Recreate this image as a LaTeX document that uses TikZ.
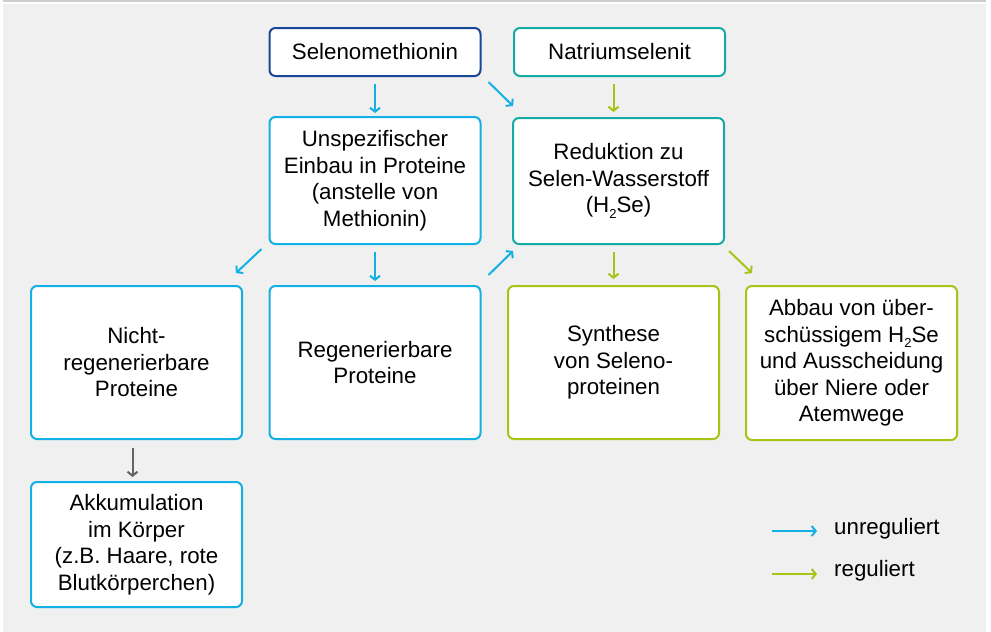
\documentclass[tikz,border=0pt]{standalone}
\usepackage{fontspec}
\setmainfont{Liberation Sans}
\usetikzlibrary{arrows.meta}

\definecolor{bggray}{RGB}{240,240,240}
\definecolor{rulegray}{RGB}{205,205,205}
\definecolor{darkblue}{RGB}{22,72,150}
\definecolor{skyblue}{RGB}{18,176,228}
\definecolor{tealc}{RGB}{22,172,166}
\definecolor{limec}{RGB}{166,196,22}
\definecolor{arrowgray}{RGB}{100,100,100}

\newcommand{\hzse}{H\raisebox{-0.45ex}{\fontsize{13}{13}\selectfont 2}Se}

\begin{document}
\begin{tikzpicture}[x=1pt,y=-1pt,
	box/.style={draw,fill=white,rounded corners=6pt,line width=2pt,
		minimum width=211pt,align=center,inner sep=2pt,
		font=\fontsize{22.3}{26.5}\selectfont},
	tip/.style={-{Straight Barb[length=4pt,width=10pt]}},
	unreg/.style={tip,draw=skyblue,line width=2pt},
	reg/.style={tip,draw=limec,line width=2pt},
	plain/.style={tip,draw=arrowgray,line width=2pt},
	legend/.style={anchor=west,inner sep=0pt,font=\fontsize{22.3}{26.5}\selectfont}]

	\useasboundingbox (0,0) rectangle (991,632);
	\fill[bggray] (3,4) rectangle (986,632);
	\fill[rulegray] (3,0) rectangle (986,1.5);

	\node[box,draw=darkblue,minimum height=48pt] (selen) at (375,52) {Selenomethionin};
	\node[box,draw=tealc,minimum height=48pt] (natrium) at (619.5,52) {Natriumselenit};

	\node[box,draw=skyblue,minimum height=127pt] (unspez) at (375,180.5)
		{Unspezifischer\\Einbau in Proteine\\(anstelle von\\Methionin)};
	\node[box,draw=tealc,minimum height=126pt] (reduk) at (618.5,181)
		{Reduktion zu\\Selen-Wasserstoff\\(\hzse)};

	\node[box,draw=skyblue,minimum height=153pt] (nicht) at (136.5,362.5)
		{Nicht-\\regenerierbare\\Proteine};
	\node[box,draw=skyblue,minimum height=153pt] (regen) at (375,362.5)
		{Regenerierbare\\Proteine};
	\node[box,draw=limec,minimum height=153pt] (synth) at (613.5,362.5)
		{Synthese\\von Seleno-\\proteinen};
	\node[box,draw=limec,minimum height=154pt] (abbau) at (851.5,363)
		{Abbau von über-\\schüssigem \hzse\\und Ausscheidung\\über Niere oder\\Atemwege};

	\node[box,draw=skyblue,minimum height=125pt] (akku) at (136.5,544.5)
		{Akkumulation\\im Körper\\(z.B. Haare, rote\\Blutkörperchen)};

	\draw[unreg,shorten <=7pt,shorten >=3pt] (selen) -- (unspez);
	\draw[unreg] ([shift={(7,5)}]selen.south east) -- ([shift={(1,-11)}]reduk.north west);
	\draw[reg,shorten <=7pt,shorten >=5pt] (natrium.south -| synth.north) -- (reduk.north -| synth.north);

	\draw[unreg] ([shift={(-7,4)}]unspez.south west) -- ([shift={(-7,-12)}]nicht.north east);
	\draw[unreg,shorten <=7pt,shorten >=4pt] (unspez) -- (regen);
	\draw[unreg] ([shift={(7,-10)}]regen.north east) -- ([shift={(1,6)}]reduk.south west);
	\draw[reg,shorten <=7pt,shorten >=6pt] (reduk.south -| synth.north) -- (synth.north);
	\draw[reg] ([shift={(4,6)}]reduk.south east) -- ([shift={(7,-12)}]abbau.north west);

	\draw[plain,shorten <=8pt,shorten >=4pt] ([xshift=-4]nicht.south) -- ([xshift=-4]akku.north);

	\node[legend] (lunreg) at (834,529) {unreguliert};
	\node[legend] (lreg) at (834,571) {reguliert};
	\coordinate (lu) at (772,531);
	\coordinate (lr) at (772,574);
	\draw[unreg,shorten >=17pt] (lu) -- (lu -| lunreg.west);
	\draw[reg,shorten >=17pt] (lr) -- (lr -| lreg.west);
\end{tikzpicture}
\end{document}
